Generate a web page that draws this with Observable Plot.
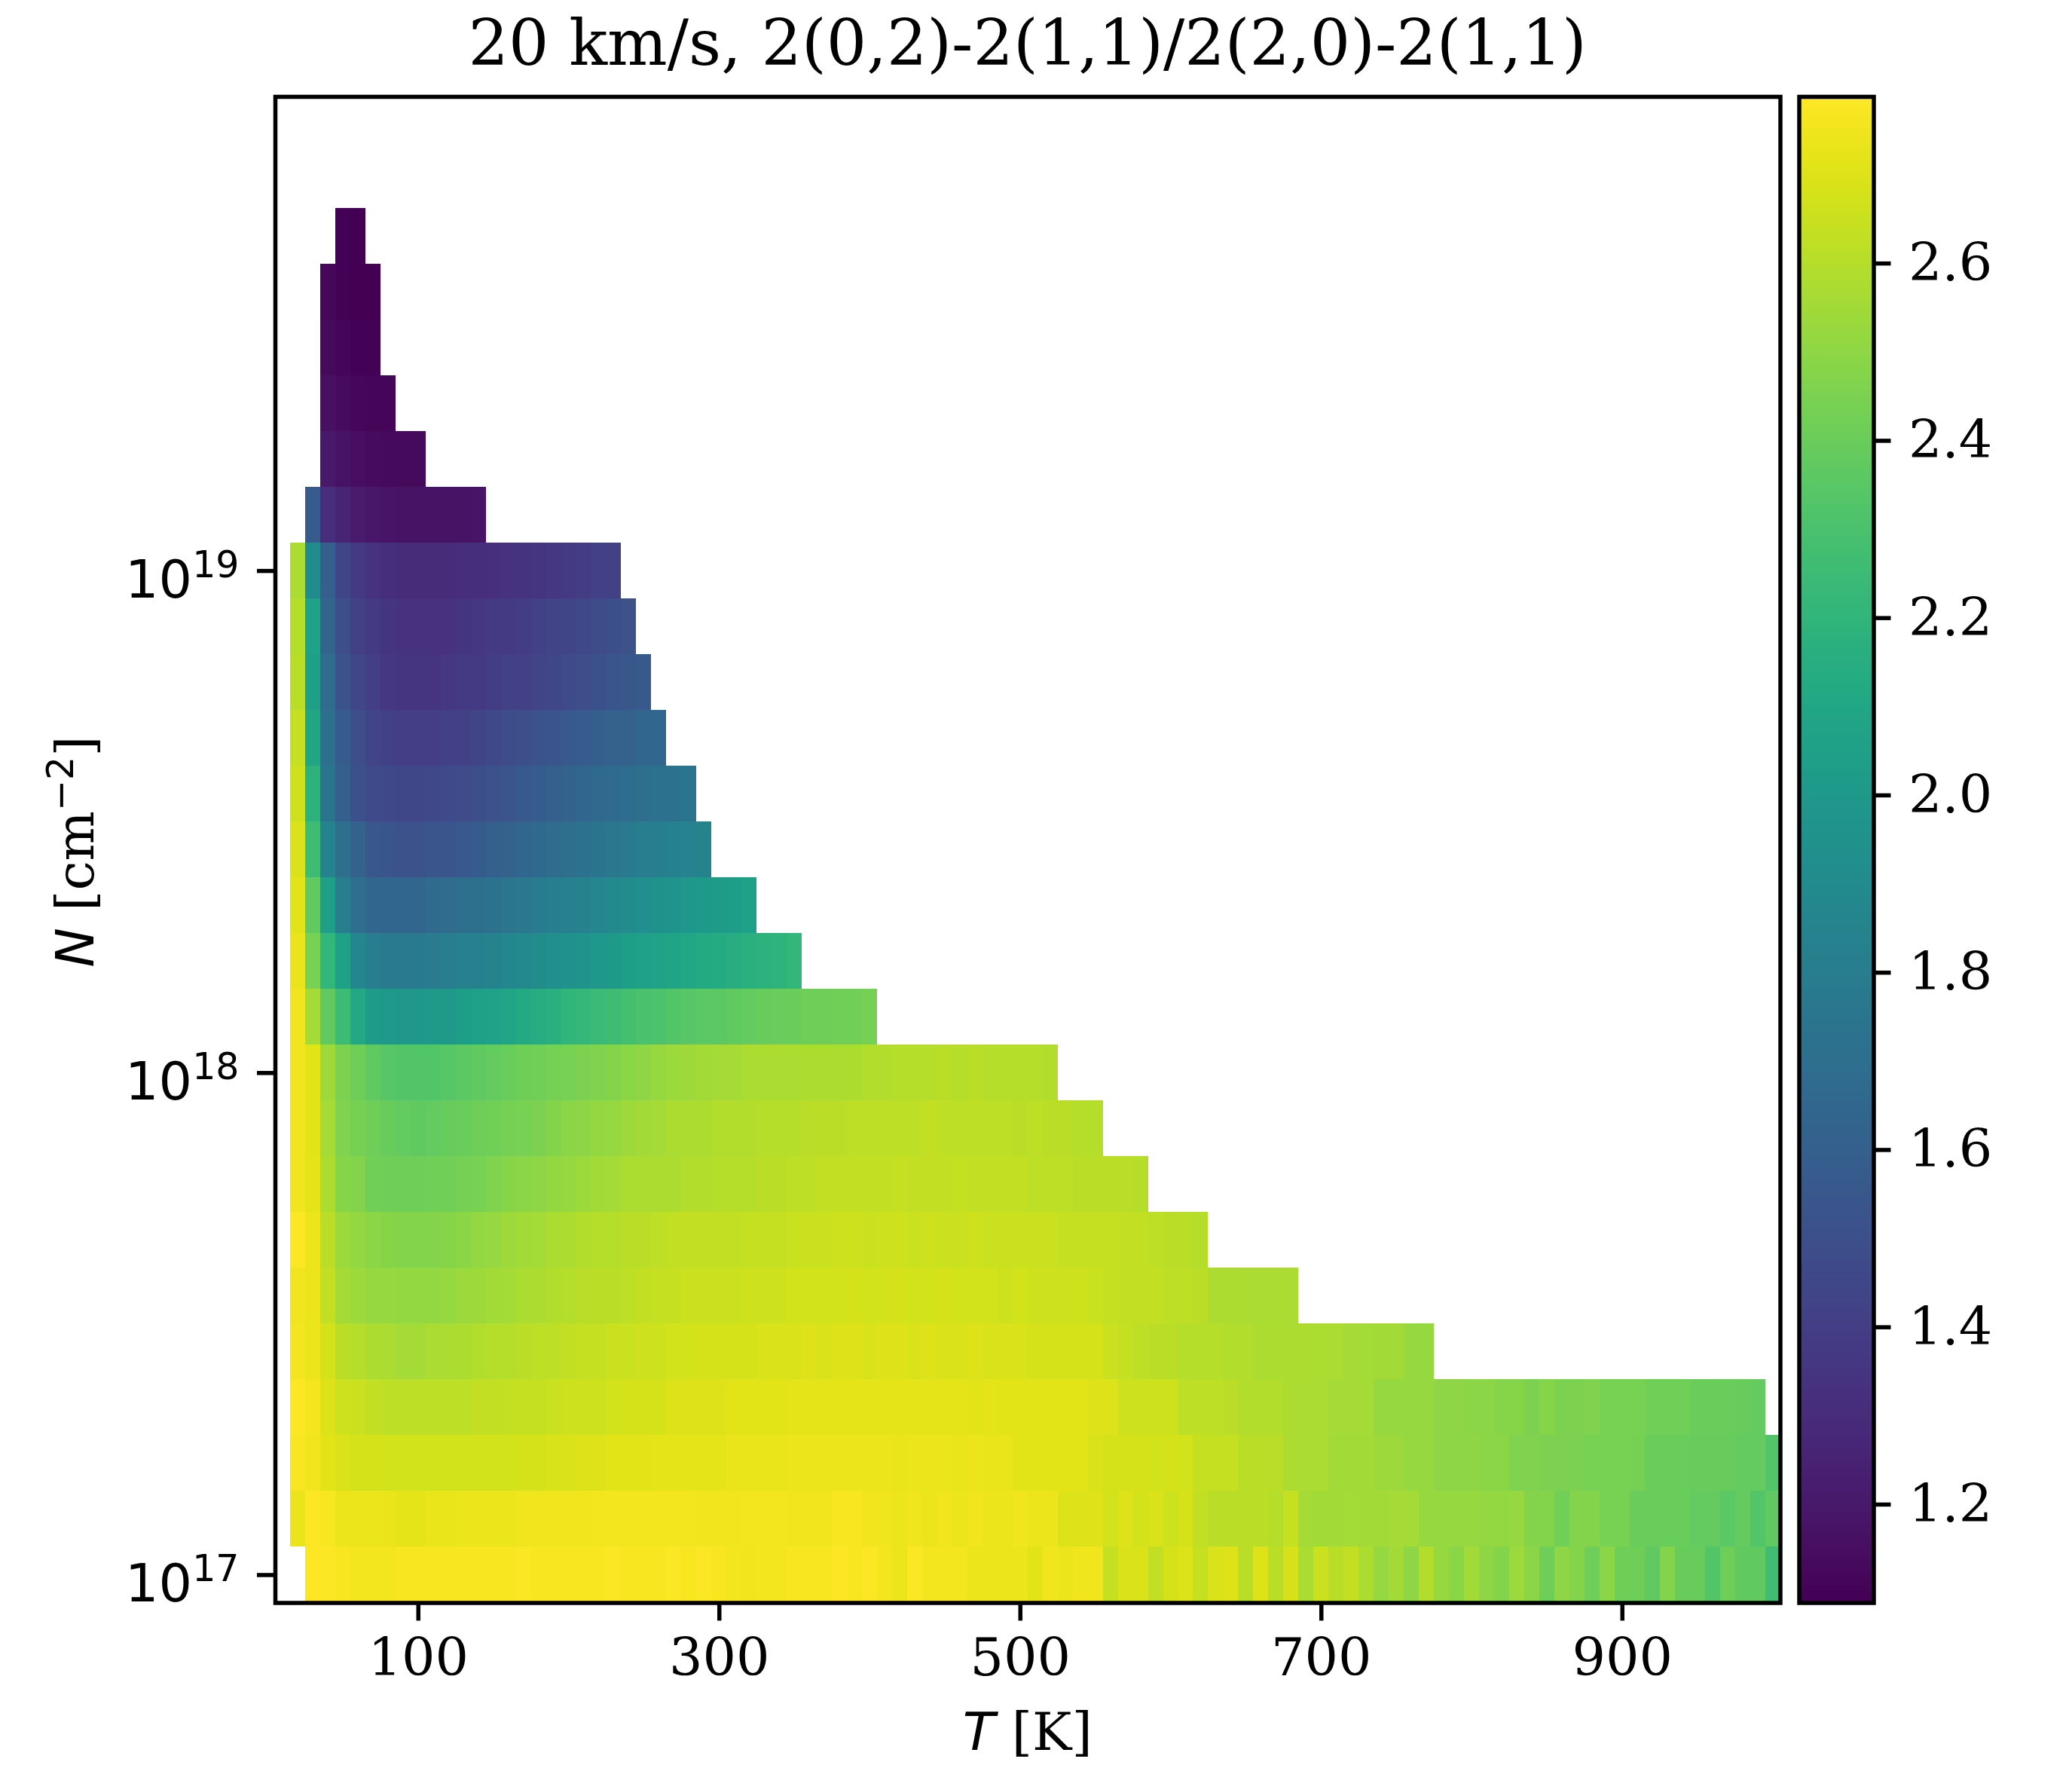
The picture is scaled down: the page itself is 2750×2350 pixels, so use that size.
<!DOCTYPE html>
<html><head><meta charset="utf-8">
<script src="https://cdn.jsdelivr.net/npm/d3@7"></script>
<script src="https://cdn.jsdelivr.net/npm/@observablehq/plot@0.6"></script>
<style>
html,body{margin:0;padding:0;background:#fff;}
#chart{position:relative;width:2750px;height:2350px;background:#fff;overflow:hidden;}
#chart svg{position:absolute;top:0;}
</style></head><body><div id="chart"></div>
<script>
// ---- data ----
const TITLE = "20 km/s, 2(0,2)-2(1,1)/2(2,0)-2(1,1)";
const T_STEP = 10;          // K, grid spacing in temperature
const LOG_STEP = 1 / 9;     // grid spacing in log10 N
const xTicks = [100, 300, 500, 700, 900];
const yTicks = [1e17, 1e18, 1e19];
const cbTicks = [1.2, 1.4, 1.6, 1.8, 2.0, 2.2, 2.4, 2.6];
const colorDomain = [1.089, 2.788];

// log10 N of each row (bottom to top)
const logN = [17.0000, 17.1111, 17.2222, 17.3333, 17.4444, 17.5556, 17.6667, 17.7778, 17.8889,
  18.0000, 18.1111, 18.2222, 18.3333, 18.4444, 18.5556, 18.6667, 18.7778, 18.8889,
  19.0000, 19.1111, 19.2222, 19.3333, 19.4444, 19.5556, 19.6667];
// first temperature (K) of each row
const rowStartT = [30, 20, 20, 20, 20, 20, 20, 20, 20, 20, 20, 20, 20, 20, 20, 20, 20, 20, 20, 30, 40, 40, 40, 40, 50];

const row0 = [2.79,2.78,2.77,2.76,2.76,2.76,2.77,2.77,2.77,2.77, 2.77,2.77,2.77,2.77,2.78,2.77,2.77,2.77,2.77,2.77,
  2.78,2.77,2.77,2.77,2.78,2.77,2.78,2.77,2.76,2.75, 2.76,2.76,2.77,2.77,2.77,2.79,2.77,2.78,2.76,2.74,
  2.78,2.76,2.76,2.76,2.74,2.74,2.74,2.74,2.71,2.75, 2.74,2.75,2.75,2.64,2.69,2.69,2.63,2.68,2.70,2.64,
  2.69,2.70,2.61,2.70,2.61,2.68,2.57,2.65,2.61,2.63, 2.58,2.52,2.55,2.50,2.59,2.52,2.49,2.55,2.50,2.47,
  2.53,2.49,2.41,2.50,2.47,2.41,2.49,2.41,2.41,2.37, 2.47,2.39,2.39,2.33,2.41,2.37,2.37,2.27];
const row1 = [2.73,2.79,2.77,2.74,2.74,2.74,2.73,2.72,2.72,2.73, 2.73,2.74,2.74,2.74,2.74,2.75,2.75,2.75,2.75,2.75,
  2.76,2.76,2.76,2.76,2.76,2.76,2.76,2.75,2.75,2.75, 2.76,2.76,2.76,2.75,2.75,2.75,2.77,2.77,2.75,2.75,
  2.74,2.75,2.74,2.75,2.74,2.75,2.74,2.74,2.75,2.74, 2.74,2.70,2.70,2.70,2.67,2.70,2.67,2.69,2.66,2.68,
  2.63,2.61,2.61,2.61,2.61,2.60,2.64,2.56,2.55,2.55, 2.56,2.55,2.55,2.56,2.56,2.52,2.52,2.52,2.52,2.51,
  2.51,2.52,2.47,2.47,2.42,2.47,2.47,2.44,2.44,2.40, 2.40,2.40,2.40,2.38,2.38,2.35,2.38,2.33,2.37];
const row2 = [2.77,2.75,2.71,2.69,2.68,2.68,2.67,2.67,2.67,2.67, 2.67,2.67,2.67,2.67,2.67,2.68,2.68,2.69,2.69,2.70,
  2.70,2.71,2.71,2.71,2.72,2.72,2.72,2.72,2.72,2.73, 2.73,2.73,2.73,2.74,2.74,2.74,2.74,2.74,2.74,2.74,
  2.73,2.74,2.74,2.74,2.73,2.74,2.73,2.73,2.71,2.71, 2.71,2.71,2.71,2.69,2.68,2.68,2.68,2.67,2.68,2.67,
  2.64,2.64,2.64,2.61,2.61,2.61,2.58,2.57,2.57,2.55, 2.55,2.55,2.54,2.54,2.52,2.52,2.50,2.50,2.50,2.49,
  2.49,2.46,2.46,2.45,2.45,2.45,2.44,2.44,2.44,2.43, 2.40,2.40,2.40,2.39,2.39,2.39,2.38,2.38,2.33];
const row3 = [2.78,2.76,2.70,2.66,2.65,2.63,2.62,2.62,2.62,2.62, 2.62,2.62,2.63,2.63,2.64,2.64,2.64,2.65,2.66,2.66,
  2.66,2.67,2.68,2.68,2.68,2.70,2.70,2.70,2.70,2.71, 2.71,2.71,2.71,2.72,2.72,2.72,2.72,2.72,2.72,2.72,
  2.72,2.72,2.72,2.72,2.72,2.71,2.72,2.71,2.71,2.71, 2.71,2.71,2.71,2.70,2.70,2.66,2.66,2.66,2.66,2.62,
  2.62,2.62,2.61,2.59,2.59,2.59,2.58,2.57,2.57,2.56, 2.56,2.56,2.52,2.52,2.52,2.52,2.50,2.50,2.49,2.49,
  2.48,2.48,2.45,2.48,2.45,2.45,2.46,2.44,2.44,2.44, 2.42,2.42,2.42,2.40,2.40,2.40,2.39,2.38];
const row4 = [2.76,2.74,2.68,2.61,2.60,2.58,2.57,2.56,2.56,2.57, 2.57,2.58,2.59,2.60,2.60,2.61,2.62,2.62,2.63,2.64,
  2.64,2.65,2.65,2.66,2.66,2.67,2.67,2.68,2.68,2.68, 2.68,2.69,2.69,2.69,2.70,2.69,2.70,2.70,2.69,2.70,
  2.70,2.69,2.70,2.69,2.69,2.70,2.69,2.69,2.69,2.68, 2.68,2.68,2.68,2.68,2.65,2.64,2.62,2.61,2.61,2.60,
  2.60,2.60,2.59,2.59,2.58,2.57,2.58,2.58,2.57,2.57, 2.56,2.56,2.55,2.55,2.52,2.52];
const row5 = [2.75,2.74,2.63,2.56,2.54,2.52,2.52,2.51,2.51,2.51, 2.52,2.53,2.54,2.55,2.56,2.57,2.58,2.59,2.60,2.61,
  2.61,2.61,2.62,2.63,2.64,2.64,2.65,2.65,2.65,2.65, 2.66,2.66,2.66,2.67,2.67,2.67,2.67,2.68,2.67,2.67,
  2.68,2.67,2.67,2.68,2.67,2.67,2.67,2.66,2.67,2.66, 2.66,2.66,2.66,2.65,2.64,2.63,2.63,2.63,2.62,2.62,
  2.61,2.58,2.58,2.57,2.57,2.57,2.57];
const row6 = [2.78,2.74,2.61,2.53,2.51,2.49,2.48,2.47,2.47,2.47, 2.48,2.49,2.51,2.52,2.54,2.55,2.56,2.57,2.58,2.59,
  2.60,2.60,2.61,2.61,2.62,2.63,2.63,2.63,2.63,2.63, 2.64,2.64,2.64,2.65,2.65,2.65,2.66,2.66,2.65,2.66,
  2.66,2.65,2.66,2.65,2.65,2.66,2.65,2.65,2.65,2.65, 2.65,2.64,2.64,2.64,2.64,2.63,2.63,2.62,2.61,2.61,2.60];
const row7 = [2.75,2.72,2.58,2.48,2.47,2.42,2.41,2.41,2.41,2.42, 2.42,2.43,2.44,2.46,2.48,2.49,2.50,2.51,2.52,2.53,
  2.55,2.56,2.57,2.57,2.58,2.58,2.59,2.59,2.60,2.60, 2.60,2.61,2.61,2.62,2.62,2.63,2.63,2.63,2.63,2.63,
  2.64,2.63,2.63,2.63,2.64,2.63,2.63,2.63,2.63,2.62, 2.62,2.62,2.61,2.61,2.61,2.61,2.60];
const row8 = [2.75,2.71,2.56,2.46,2.43,2.41,2.39,2.38,2.37,2.38, 2.39,2.40,2.41,2.42,2.43,2.44,2.45,2.47,2.49,2.50,
  2.51,2.52,2.54,2.55,2.56,2.57,2.58,2.58,2.59,2.59, 2.59,2.60,2.60,2.60,2.61,2.61,2.61,2.62,2.62,2.62,
  2.62,2.62,2.63,2.62,2.62,2.62,2.62,2.62,2.61,2.62, 2.61,2.61,2.60,2.60];
const row9 = [2.75,2.71,2.54,2.45,2.41,2.37,2.34,2.33,2.33,2.33, 2.34,2.36,2.37,2.38,2.40,2.41,2.42,2.43,2.44,2.45,
  2.46,2.47,2.49,2.50,2.52,2.53,2.54,2.55,2.56,2.56, 2.57,2.57,2.57,2.57,2.58,2.58,2.58,2.58,2.59,2.59,
  2.60,2.60,2.60,2.61,2.60,2.61,2.60,2.60,2.60,2.60, 2.59];
const row10 = [2.75,2.56,2.37,2.25,2.11,2.02,2.00,1.99,1.99,2.00, 2.01,2.03,2.05,2.07,2.09,2.12,2.15,2.17,2.20,2.22,
  2.24,2.26,2.28,2.30,2.31,2.33,2.34,2.35,2.36,2.37, 2.38,2.39,2.40,2.40,2.41,2.41,2.42,2.42,2.43];
const row11 = [2.73,2.44,2.21,2.06,1.87,1.80,1.78,1.78,1.78,1.79, 1.80,1.82,1.83,1.85,1.87,1.89,1.91,1.93,1.95,1.97,
  1.99,2.01,2.03,2.05,2.07,2.08,2.10,2.12,2.13,2.15, 2.17,2.18,2.19,2.21];
const row12 = [2.71,2.37,2.04,1.80,1.70,1.65,1.64,1.64,1.65,1.67, 1.68,1.70,1.71,1.73,1.75,1.77,1.79,1.81,1.83,1.85,
  1.87,1.89,1.91,1.93,1.95,1.97,1.99,2.00,2.02,2.03, 2.05];
const row13 = [2.69,2.26,1.85,1.70,1.62,1.55,1.53,1.52,1.52,1.53, 1.54,1.56,1.58,1.60,1.62,1.64,1.66,1.68,1.70,1.72,
  1.74,1.76,1.78,1.80,1.81,1.83,1.84,1.85];
const row14 = [2.66,2.18,1.74,1.60,1.51,1.47,1.46,1.45,1.45,1.46, 1.47,1.48,1.50,1.52,1.54,1.56,1.58,1.60,1.62,1.64,
  1.66,1.67,1.69,1.70,1.72,1.73,1.74];
const row15 = [2.64,2.09,1.70,1.57,1.49,1.43,1.41,1.40,1.40,1.40, 1.41,1.42,1.44,1.46,1.48,1.50,1.52,1.54,1.56,1.58,
  1.59,1.61,1.62,1.64,1.65];
const row16 = [2.61,2.04,1.68,1.52,1.45,1.40,1.36,1.35,1.35,1.35, 1.36,1.37,1.38,1.39,1.41,1.42,1.43,1.45,1.47,1.49,
  1.51,1.53,1.55,1.56];
const row17 = [2.60,2.07,1.63,1.49,1.42,1.38,1.35,1.33,1.33,1.33, 1.33,1.35,1.36,1.37,1.38,1.39,1.41,1.43,1.44,1.46,
  1.48,1.50,1.52];
const row18 = [2.57,1.90,1.60,1.44,1.37,1.33,1.31,1.30,1.30,1.30, 1.30,1.31,1.31,1.32,1.33,1.34,1.35,1.36,1.37,1.39,
  1.41,1.42];
const row19 = [1.57,1.31,1.26,1.21,1.19,1.18,1.17,1.17,1.17,1.17,1.17,1.18];
const row20 = [1.20,1.17,1.15,1.14,1.13,1.13,1.13];
const row21 = [1.16,1.14,1.12,1.11,1.11];
const row22 = [1.13,1.11,1.10,1.10];
const row23 = [1.12,1.10,1.09,1.09];
const row24 = [1.10,1.09];

const rows = [row0,row1,row2,row3,row4,row5,row6,row7,row8,row9,row10,row11,row12,
  row13,row14,row15,row16,row17,row18,row19,row20,row21,row22,row23,row24];

// ---- table ----
const cells = [];
rows.forEach((vals, k) => vals.forEach((v, i) => {
  cells.push({T: rowStartT[k] + T_STEP * i, lg: logN[k], v});
}));

const colorScale = {type: "linear", scheme: "viridis", domain: colorDomain};
const LW = 5.5;

const main = Plot.plot({
  width: 2750, height: 2350,
  marginLeft: 365, marginRight: 387.5, marginTop: 128, marginBottom: 223.5,
  style: {background: "transparent", fontFamily: "DejaVu Serif", fontSize: "70px", overflow: "visible", maxWidth: "none"},
  x: {domain: [5, 1005]},
  y: {type: "log", domain: [10 ** 16.9444, 10 ** 19.9444]},
  color: colorScale,
  marks: [
    Plot.rect(cells, {
      x1: d => d.T - T_STEP / 2, x2: d => d.T + T_STEP / 2,
      y1: d => 10 ** (d.lg - LOG_STEP / 2), y2: d => 10 ** (d.lg + LOG_STEP / 2),
      fill: "v", inset: 0, shapeRendering: "crispEdges"
    }),
    Plot.axisX({ticks: xTicks, tickSize: 24, tickPadding: 22, strokeWidth: LW, label: null, tickFormat: d => String(d)}),
    Plot.axisY({ticks: yTicks, tickSize: 24, tickPadding: 24, strokeWidth: LW, label: null,
      tickFormat: d => String(Math.round(Math.log10(d)))}),
    Plot.frame({stroke: "black", strokeWidth: LW})
  ]
});
main.style.left = "0px";

const cb = Plot.plot({
  width: 450, height: 2350,
  marginLeft: 87.5, marginRight: 263.5, marginTop: 128, marginBottom: 223.5,
  style: {background: "transparent", fontFamily: "DejaVu Serif", fontSize: "70px", overflow: "visible", maxWidth: "none"},
  x: {domain: [0, 1], axis: null},
  y: {domain: colorDomain, axis: null},
  color: colorScale,
  marks: [
    Plot.raster({x1: 0, x2: 1, y1: colorDomain[0], y2: colorDomain[1], width: 1, height: 1000,
      fill: (x, y) => y, imageRendering: "auto"}),
    Plot.axisY({anchor: "right", ticks: cbTicks, tickSize: 22, tickPadding: 24, strokeWidth: LW, label: null,
      tickFormat: d => d.toFixed(1)}),
    Plot.frame({stroke: "black", strokeWidth: LW})
  ]
});
cb.style.left = "2300px";

const chart = document.getElementById("chart");
chart.appendChild(main);
chart.appendChild(cb);

// y tick labels as 10^n (mathtext look)
const svg = d3.select(main);
svg.selectAll('g[aria-label="y-axis tick label"] text').each(function () {
  const e = this.textContent;
  const t = d3.select(this);
  t.text(null).attr("font-family", "DejaVu Sans").attr("dy", "0.18em");
  t.append("tspan").text("10");
  t.append("tspan").attr("font-size", "49px").attr("dy", "-27").text(e);
});

// title
svg.append("text")
  .attr("x", (365 + 2362.5) / 2).attr("y", 86)
  .attr("text-anchor", "middle").attr("font-size", "84px").attr("font-family", "DejaVu Serif")
  .text(TITLE);

// x label
const xl = svg.append("text")
  .attr("x", (365 + 2362.5) / 2).attr("y", 2322)
  .attr("text-anchor", "middle").attr("font-size", "70px").attr("font-family", "DejaVu Serif");
xl.append("tspan").attr("font-family", "DejaVu Sans").attr("font-style", "oblique").text("T");
xl.append("tspan").text(" [K]");

// y label
const yl = svg.append("text")
  .attr("transform", "translate(124,1130) rotate(-90)")
  .attr("text-anchor", "middle").attr("font-size", "70px").attr("font-family", "DejaVu Serif");
yl.append("tspan").attr("font-family", "DejaVu Sans").attr("font-style", "oblique").text("N");
yl.append("tspan").text(" [cm");
yl.append("tspan").attr("font-family", "DejaVu Sans").attr("font-size", "49px").attr("dy", "-27").text("\u22122");
yl.append("tspan").attr("dy", "27").text("]");
</script></body></html>
